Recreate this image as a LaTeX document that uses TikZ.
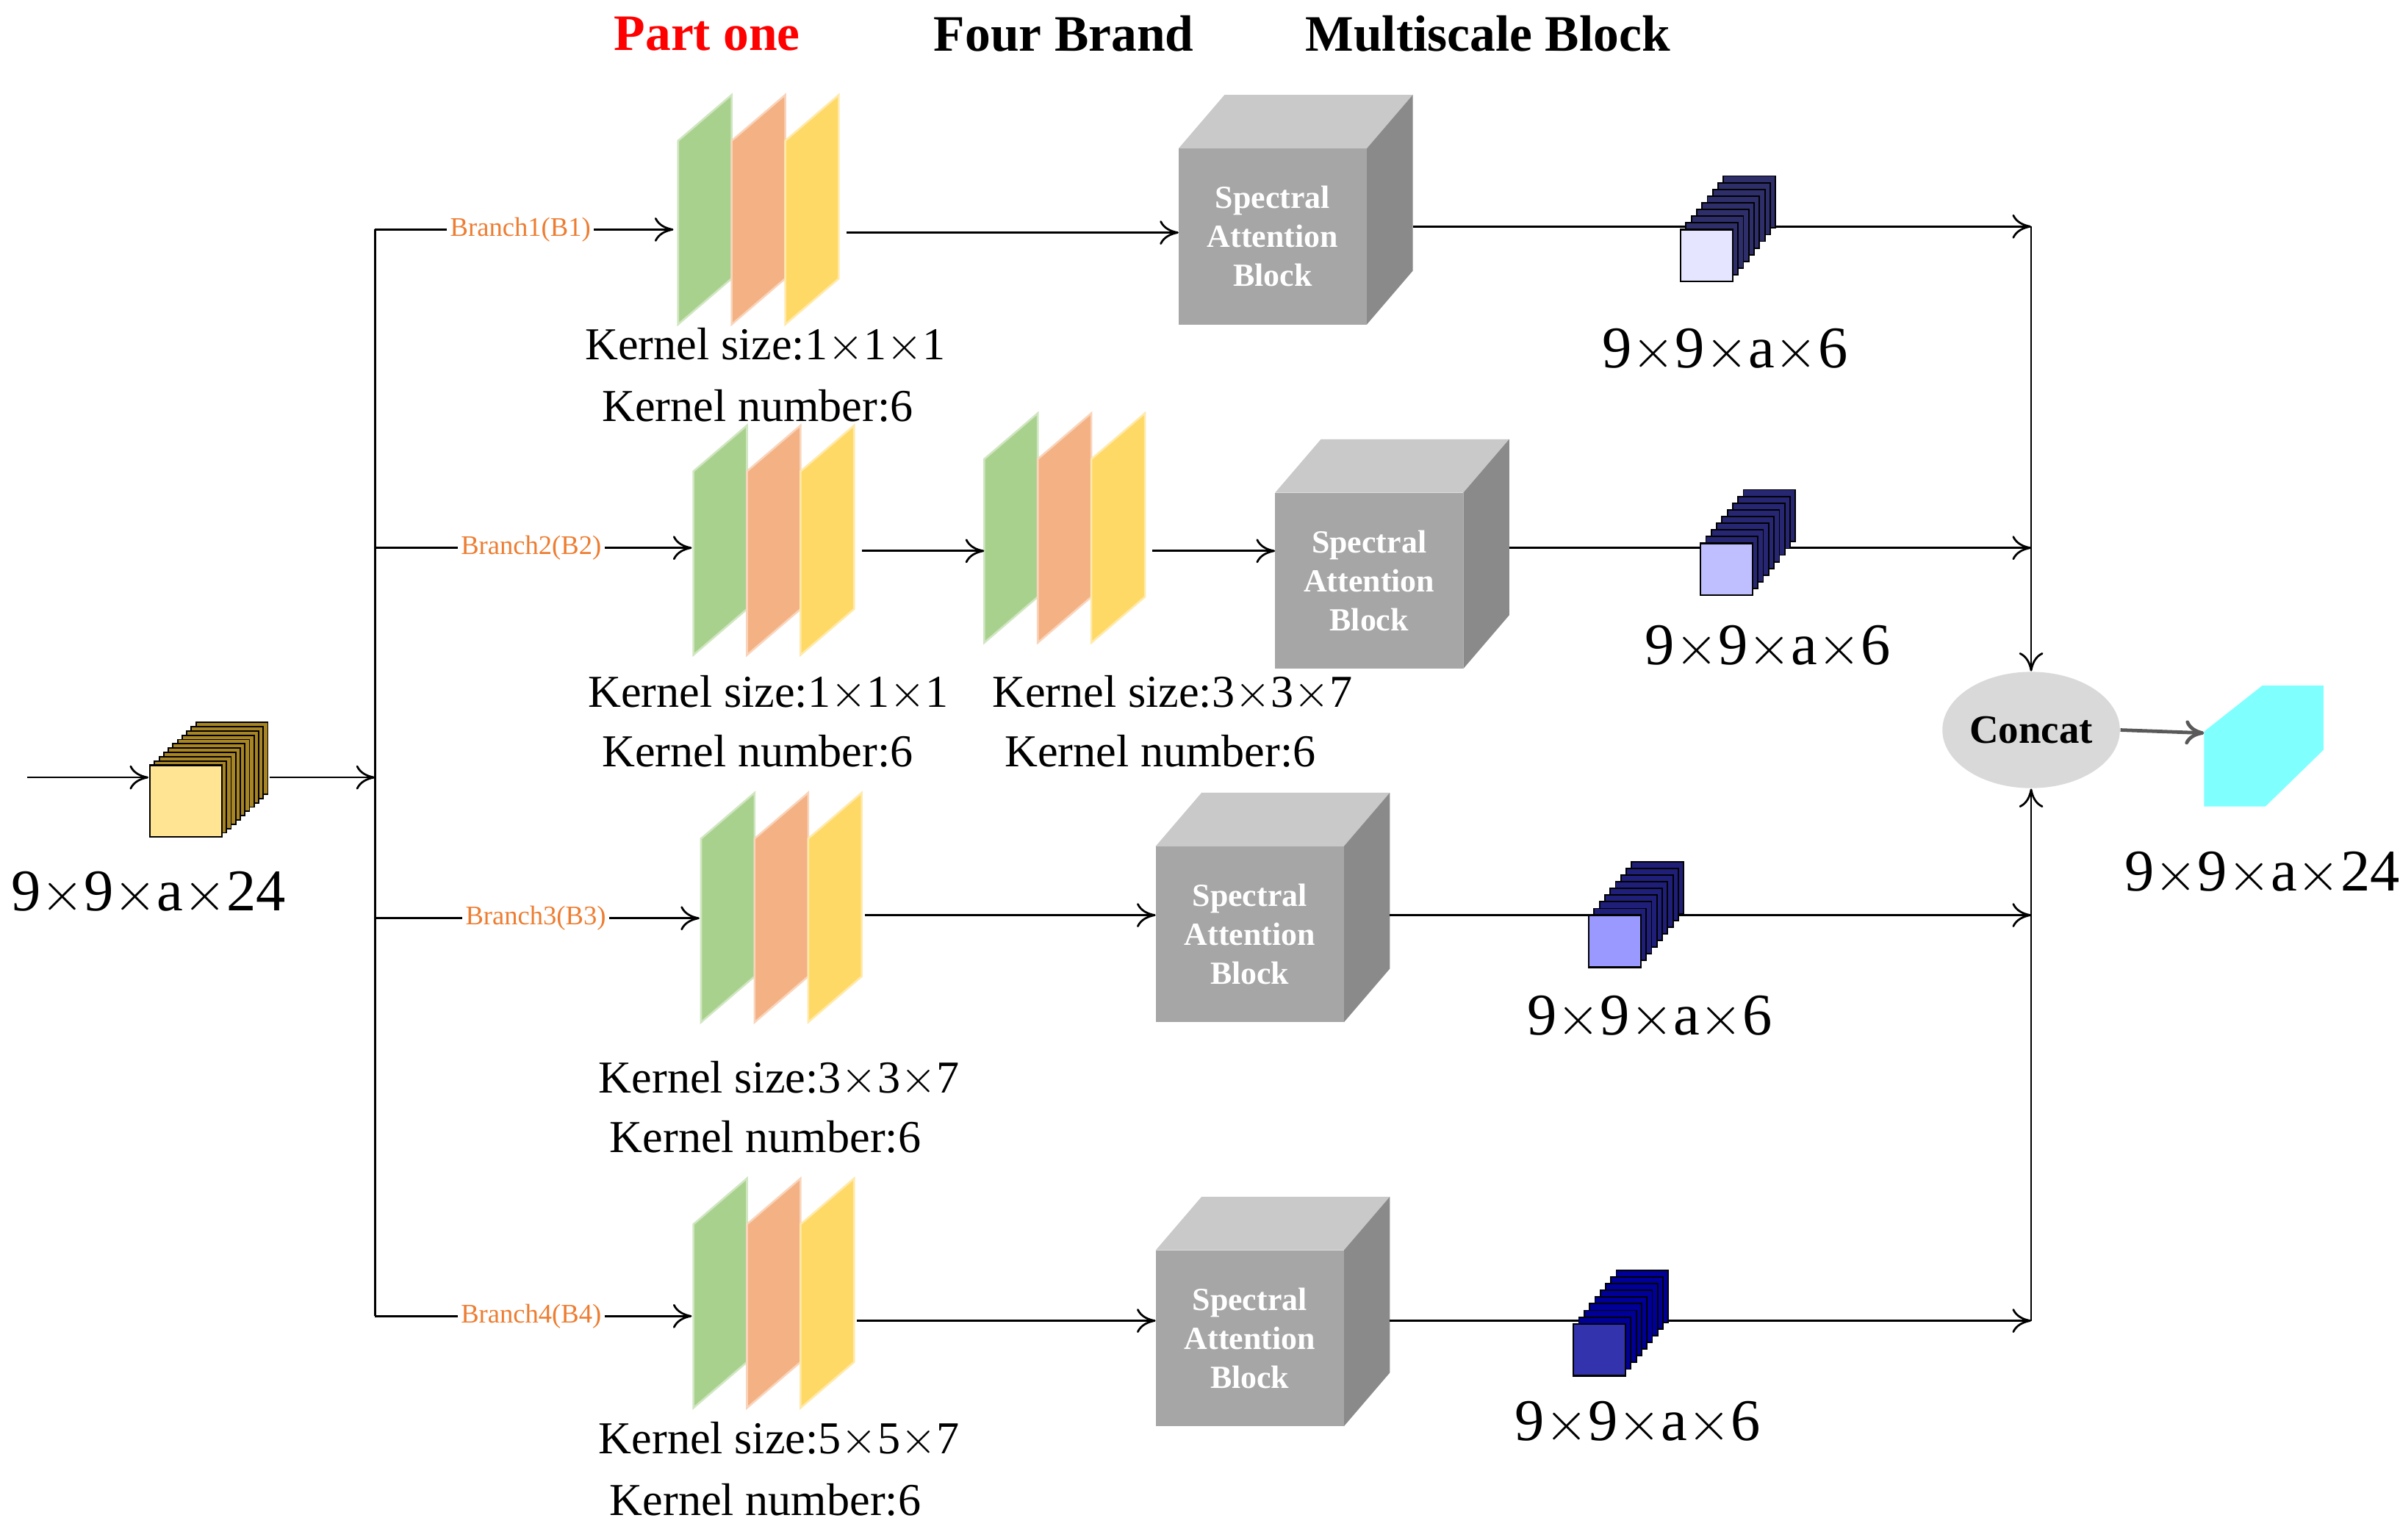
\documentclass[tikz,border=0pt]{standalone}
\usepackage{fontspec}
\setmainfont{Liberation Serif}
\usetikzlibrary{arrows.meta,shapes.geometric}
\definecolor{gr}{HTML}{A9D18E}
\definecolor{orr}{HTML}{F4B183}
\definecolor{ye}{HTML}{FFD966}
\definecolor{brorange}{HTML}{ED7D31}
\definecolor{sabf}{HTML}{A6A6A6}
\definecolor{sabt}{HTML}{C9C9C9}
\definecolor{sabs}{HTML}{8A8A8A}
\definecolor{cyanc}{HTML}{80FFFF}
\newcommand\Slab[3]{\fill[#3, draw=#3!55!white, line width=0.7pt] (#1,#2) -- ++(0,-120) -- ++(35,-30) -- ++(0,120) -- cycle;}
\newcommand\Layers[2]{\Slab{#1}{#2}{gr}\Slab{#1+35}{#2}{orr}\Slab{#1+70}{#2}{ye}}
\newcommand\SAB[2]{%
 \fill[sabt] (#1,#2) -- ++(30,-35) -- ++(123,0) -- ++(-30,35) -- cycle;
 \fill[sabs] (#1+123,#2) -- ++(30,-35) -- ++(0,115) -- ++(-30,35) -- cycle;
 \fill[sabf] (#1,#2) rectangle ++(123,115);
 \node[sabtext] at (#1+61.5,#2+57.5) {Spectral\\Attention\\Block};}
\newcommand\Stack[8]{%
 \foreach \i in {#6,...,1}{\filldraw[fill=#8, draw=black, line width=0.5pt] ({#1+\i*#4/#6},{#2-\i*#5/#6}) rectangle ++(#3,#3);}
 \filldraw[fill=#7, draw=black, line width=0.6pt] (#1,#2) rectangle ++(#3,#3);}
\tikzset{
 ar/.style={-{To[length=7pt,width=9pt]}, line width=0.75pt},
 ln/.style={line width=0.75pt},
 kern/.style={font=\fontsize{17}{20}\selectfont, align=left},
 dim/.style={font=\fontsize{22}{26}\selectfont},
 br/.style={font=\fontsize{10}{12}\selectfont, text=brorange, inner sep=1pt},
 sabtext/.style={font=\bfseries\fontsize{12}{14.5}\selectfont, text=white, align=center},
}
\begin{document}
\begin{tikzpicture}[x=0.02cm,y=-0.02cm]
\useasboundingbox (0,0) rectangle (1568,1006);
% title
\node[font=\bfseries\fontsize{19}{22}\selectfont, text=red] (t1) at (462,22) {Part one};
\node[font=\bfseries\fontsize{19}{22}\selectfont] (t2) at (695,22) {Four Brand};
\node[font=\bfseries\fontsize{19}{22}\selectfont] (t3) at (972,22) {Multiscale Block};
% input
\coordinate (in0) at (18,508); \coordinate (in1) at (97,508);
\coordinate (in2) at (176,508); \coordinate (tr) at (245,508);
\draw[ar] (in0) -- (in1);
\Stack{98}{500}{47}{30}{28}{10}{ye!70!white}{brown!70!yellow!80!black}
\draw[ar] (in2) -- (tr);
\node[dim] (ind) at (97,584) {9$\times$9$\times$a$\times$24};
% trunk
\coordinate (tA) at (245,150); \coordinate (tD) at (245,860);
\draw[ln] (tA) -- (tD);
% branch labels
\node[br] (b1) at (340,150) {Branch1(B1)};
\node[br] (b2) at (347,358) {Branch2(B2)};
\node[br] (b3) at (350,600) {Branch3(B3)};
\node[br] (b4) at (347,860) {Branch4(B4)};
\coordinate (t2c) at (245,358); \coordinate (t3c) at (245,600);
\draw[ln] (tA) -- (b1.west); \draw[ar] (b1.east) -- (440,150);
\draw[ln] (t2c) -- (b2.west); \draw[ar] (b2.east) -- (452,358);
\draw[ln] (t3c) -- (b3.west); \draw[ar] (b3.east) -- (457,600);
\draw[ln] (tD) -- (b4.west); \draw[ar] (b4.east) -- (452,860);
% layers
\Layers{443}{212}
\Layers{453}{428}
\Layers{643}{420}
\Layers{458}{668}
\Layers{453}{920}
% kernel texts
\node[kern] (k1a) at (500,226) {Kernel size:1$\times$1$\times$1};
\node[kern] (k1b) at (495,265) {Kernel number:6};
\node[kern] (k2a) at (502,453) {Kernel size:1$\times$1$\times$1};
\node[kern] (k2b) at (495,491) {Kernel number:6};
\node[kern] (k2c) at (766,453) {Kernel size:3$\times$3$\times$7};
\node[kern] (k2d) at (758,491) {Kernel number:6};
\node[kern] (k3a) at (509,705) {Kernel size:3$\times$3$\times$7};
\node[kern] (k3b) at (500,743) {Kernel number:6};
\node[kern] (k4a) at (509,941) {Kernel size:5$\times$5$\times$7};
\node[kern] (k4b) at (500,980) {Kernel number:6};
% SAB
\SAB{770}{97}
\SAB{833}{322}
\SAB{755}{553}
\SAB{755}{817}
% connectors
\coordinate (l1) at (553,152); \coordinate (s1) at (770,152);
\draw[ar] (l1) -- (s1);
\coordinate (l2) at (563,360); \coordinate (l2b) at (643,360);
\draw[ar] (l2) -- (l2b);
\coordinate (l2c) at (753,360); \coordinate (s2) at (833,360);
\draw[ar] (l2c) -- (s2);
\coordinate (l3) at (565,598); \coordinate (s3) at (755,598);
\draw[ar] (l3) -- (s3);
\coordinate (l4) at (560,863); \coordinate (s4) at (755,863);
\draw[ar] (l4) -- (s4);
% right side lines
\coordinate (c1) at (1327,148); \coordinate (c2) at (1327,358);
\coordinate (c3) at (1327,598); \coordinate (c4) at (1327,863);
\draw[ar] (923,148) -- (c1);
\draw[ar] (986,358) -- (c2);
\draw[ar] (908,598) -- (c3);
\draw[ar] (908,863) -- (c4);
% small cubes
\Stack{1098}{150}{34}{28}{35}{8}{blue!10!white}{gray!60!blue!60!black}
\Stack{1111}{355}{34}{28}{35}{8}{blue!25!white}{gray!50!blue!60!black}
\Stack{1038}{598}{34}{28}{35}{8}{blue!40!white}{gray!40!blue!60!black}
\Stack{1028}{865}{34}{28}{35}{8}{blue!60!black!80!white}{blue!60!black}
\node[dim] (d1) at (1127,229) {9$\times$9$\times$a$\times$6};
\node[dim] (d2) at (1155,423) {9$\times$9$\times$a$\times$6};
\node[dim] (d3) at (1078,665) {9$\times$9$\times$a$\times$6};
\node[dim] (d4) at (1070,930) {9$\times$9$\times$a$\times$6};
% concat
\node[ellipse, fill=gray!30, inner sep=0pt, minimum width=2.32cm, minimum height=1.52cm, font=\bfseries\fontsize{15}{18}\selectfont] (cc) at (1327,477) {Concat};
\draw[ar] (c1) -- (cc.north);
\draw[ar] (c4) -- (cc.south);
\coordinate (oc) at (1440,479);
\draw[ar, draw=gray!70!black, line width=1.3pt] (cc.east) -- (oc);
\fill[cyanc] (1440,527) -- (1440,478) -- (1478,448) -- (1518,448) -- (1518,490) -- (1480,527) -- cycle;
\node[dim] (od) at (1478,571) {9$\times$9$\times$a$\times$24};
\end{tikzpicture}
\end{document}
